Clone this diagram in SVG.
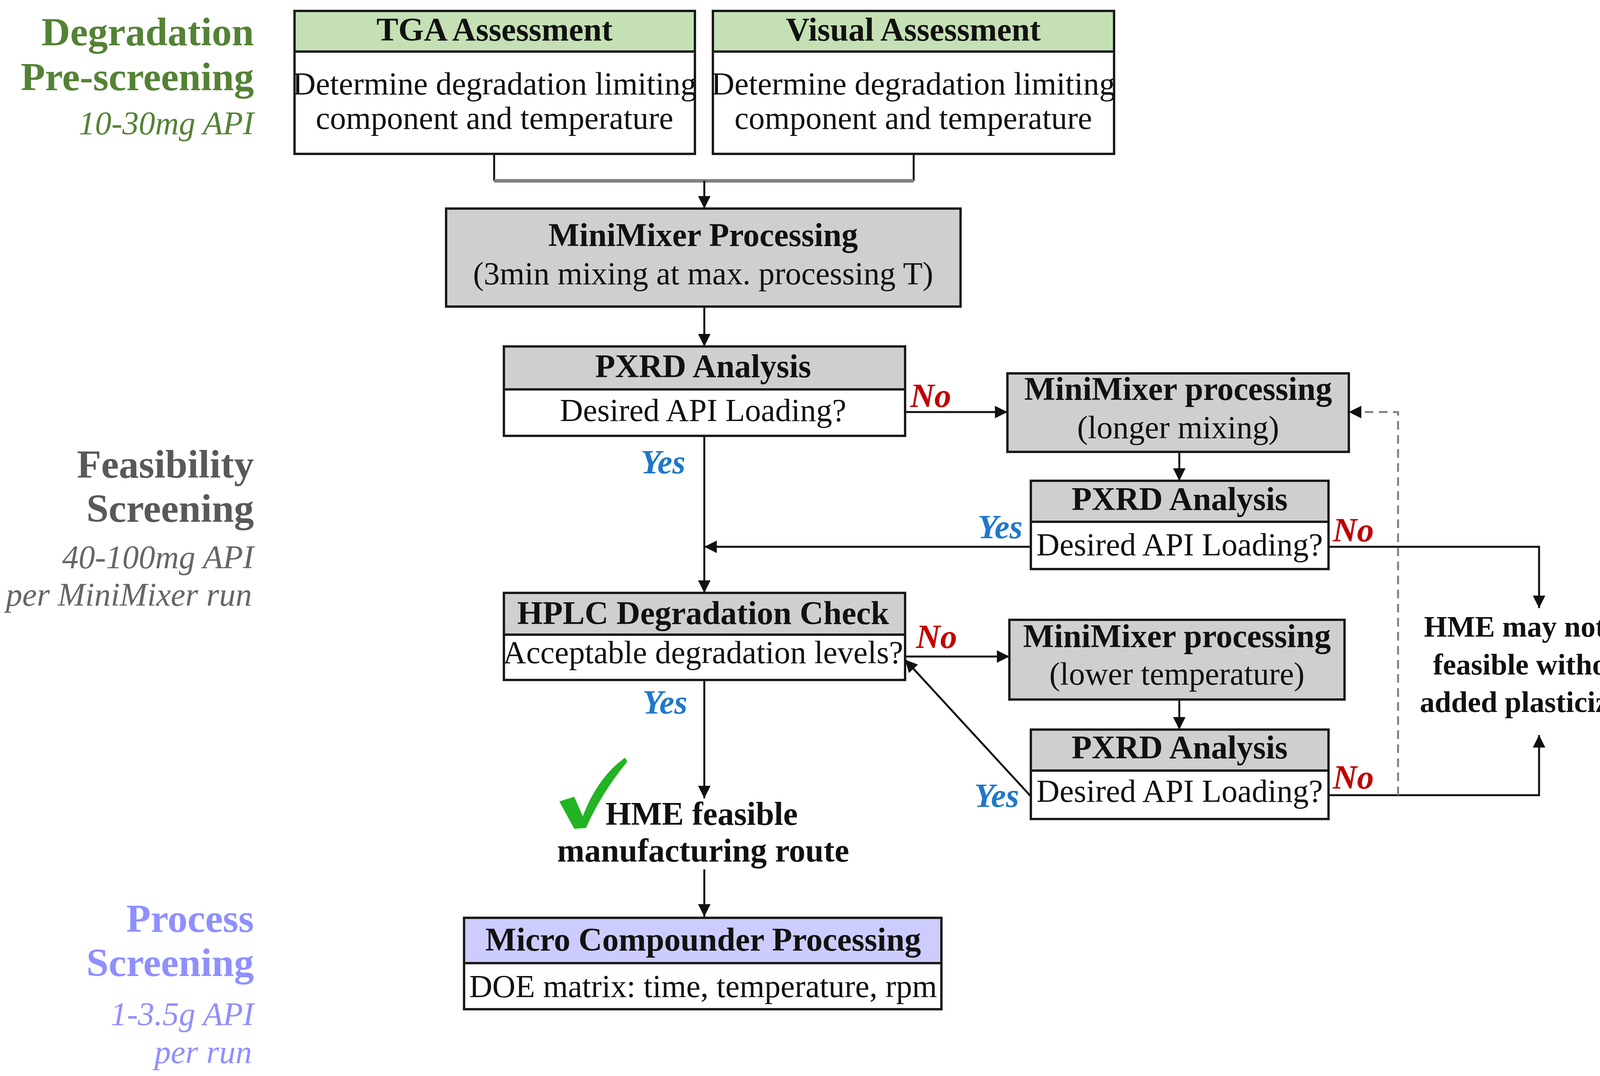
<svg xmlns="http://www.w3.org/2000/svg" width="4284" height="2755" viewBox="0 0 4284 2755">
<style>
text{font-family:"Liberation Serif","DejaVu Serif",serif;}
.box{stroke:#1a1a1a;stroke-width:6;}
.w{fill:#fff}.g{fill:#d0cece}.gr{fill:#c5e0b4}.lv{fill:#ccccff}
.t{font-size:84px;font-weight:bold;text-anchor:middle;fill:#111}
.b{font-size:82px;text-anchor:middle;fill:#111}
.h{font-size:76px;font-weight:bold;text-anchor:middle;fill:#111}
.c{stroke:#111;stroke-width:5;fill:none}
.no{font-size:86px;font-weight:bold;font-style:italic;fill:#c00000}
.yes{font-size:86px;font-weight:bold;font-style:italic;fill:#1f78c8}
.L{font-size:102px;font-weight:bold;text-anchor:end}
.S{font-size:84px;font-style:italic;text-anchor:end}
</style>
<defs>
<marker id="ad" viewBox="0 0 10 10" refX="10" refY="5" markerWidth="32" markerHeight="32" orient="auto" markerUnits="userSpaceOnUse">
<path d="M0,0 L10,5 L0,10 z" fill="#111"/>
</marker>
</defs>
<g id="labels">
<text class="L" x="650" y="116" fill="#548235">Degradation</text>
<text class="L" x="650" y="231" fill="#548235">Pre-screening</text>
<text class="S" x="650" y="344" fill="#548235">10-30mg API</text>
<text class="L" x="650" y="1223" fill="#595959">Feasibility</text>
<text class="L" x="650" y="1336" fill="#595959">Screening</text>
<text class="S" x="650" y="1455" fill="#666">40-100mg API</text>
<text class="S" x="645" y="1551" fill="#666">per MiniMixer run</text>
<text class="L" x="650" y="2386" fill="#8f8fff">Process</text>
<text class="L" x="650" y="2499" fill="#8f8fff">Screening</text>
<text class="S" x="650" y="2625" fill="#8f8fff">1-3.5g API</text>
<text class="S" x="645" y="2722" fill="#8f8fff">per run</text>
</g>
<g id="connectors">
<path class="c" d="M1265,394 V463 M2339,394 V463"/>
<path d="M1265,463 H2339" stroke="#808080" stroke-width="9"/>
<path class="c" d="M1803,463 V534" marker-end="url(#ad)"/>
<path class="c" d="M1803,785 V887" marker-end="url(#ad)"/>
<path class="c" d="M2317,1055 H2579" marker-end="url(#ad)"/>
<path class="c" d="M3019,1157 V1231" marker-end="url(#ad)"/>
<path class="c" d="M2639,1400 H1803" marker-end="url(#ad)"/>
<path class="c" d="M3401,1400 H3940 V1557" marker-end="url(#ad)"/>
<path class="c" d="M1803,1116 V1518" marker-end="url(#ad)"/>
<path class="c" d="M2317,1681 H2584" marker-end="url(#ad)"/>
<path class="c" d="M3019,1791 V1868" marker-end="url(#ad)"/>
<path class="c" d="M2639,2039 L2317,1689" stroke-width="4" marker-end="url(#ad)"/>
<path class="c" d="M3401,2036 H3940 V1882" marker-end="url(#ad)"/>
<path d="M3579,2036 V1055 H3453" fill="none" stroke="#808080" stroke-width="5" stroke-dasharray="22,14" marker-end="url(#ad)"/>
<path class="c" d="M1803,1741 V2044" marker-end="url(#ad)"/>
<path class="c" d="M1803,2226 V2347" marker-end="url(#ad)"/>
<text class="no" x="2330" y="1042">No</text>
<text class="yes" x="1640" y="1212">Yes</text>
<text class="yes" x="2503" y="1378">Yes</text>
<text class="no" x="3412" y="1386">No</text>
<text class="no" x="2345" y="1659">No</text>
<text class="yes" x="1645" y="1827">Yes</text>
<text class="yes" x="2494" y="2066">Yes</text>
<text class="no" x="3412" y="2019">No</text>
</g>
<g id="tga">
<rect class="box gr" x="754" y="28" width="1025" height="104"/>
<rect class="box w" x="754" y="132" width="1025" height="262"/>
<text class="t" x="1266" y="104">TGA Assessment</text>
<text class="b" x="1266" y="242">Determine degradation limiting</text>
<text class="b" x="1266" y="330">component and temperature</text>
</g>
<g id="visual">
<rect class="box gr" x="1825" y="28" width="1027" height="104"/>
<rect class="box w" x="1825" y="132" width="1027" height="262"/>
<text class="t" x="2338" y="104">Visual Assessment</text>
<text class="b" x="2338" y="242">Determine degradation limiting</text>
<text class="b" x="2338" y="330">component and temperature</text>
</g>
<g id="minimixer1">
<rect class="box g" x="1142" y="534" width="1317" height="251"/>
<text class="t" x="1800" y="630">MiniMixer Processing</text>
<text class="b" x="1800" y="728">(3min mixing at max. processing T)</text>
</g>
<g id="pxrd1">
<rect class="box g" x="1290" y="887" width="1027" height="110"/>
<rect class="box w" x="1290" y="997" width="1027" height="119"/>
<text class="t" x="1800" y="966">PXRD Analysis</text>
<text class="b" x="1800" y="1078">Desired API Loading?</text>
</g>
<g id="minimixer2">
<rect class="box g" x="2579" y="956" width="874" height="201"/>
<text class="t" x="3016" y="1024">MiniMixer processing</text>
<text class="b" x="3016" y="1122">(longer mixing)</text>
</g>
<g id="pxrd2">
<rect class="box g" x="2639" y="1231" width="762" height="105"/>
<rect class="box w" x="2639" y="1336" width="762" height="121"/>
<text class="t" x="3020" y="1306">PXRD Analysis</text>
<text class="b" x="3020" y="1422">Desired API Loading?</text>
</g>
<g id="hplc">
<rect class="box g" x="1290" y="1518" width="1027" height="107"/>
<rect class="box w" x="1290" y="1625" width="1027" height="116"/>
<text class="t" x="1800" y="1598">HPLC Degradation Check</text>
<text class="b" x="1800" y="1698">Acceptable degradation levels?</text>
</g>
<g id="minimixer3">
<rect class="box g" x="2584" y="1587" width="858" height="204"/>
<text class="t" x="3013" y="1657">MiniMixer processing</text>
<text class="b" x="3013" y="1753">(lower temperature)</text>
</g>
<g id="pxrd3">
<rect class="box g" x="2639" y="1868" width="762" height="105"/>
<rect class="box w" x="2639" y="1973" width="762" height="124"/>
<text class="t" x="3020" y="1942">PXRD Analysis</text>
<text class="b" x="3020" y="2053">Desired API Loading?</text>
</g>
<g id="notfeasible">
<text class="h" x="3925" y="1630">HME may not be</text>
<text class="h" x="3925" y="1727">feasible without</text>
<text class="h" x="3925" y="1823">added plasticizers</text>
</g>
<g id="feasible">
<path d="M1432,2052 L1470,2040 L1492,2090 Q1530,1990 1600,1940 L1606,1950 Q1540,2030 1500,2120 L1470,2122 Z" fill="#22b422"/>
<text class="t" x="1550" y="2112" style="text-anchor:start">HME feasible</text>
<text class="t" x="1800" y="2206">manufacturing route</text>
</g>
<g id="micro">
<rect class="box lv" x="1188" y="2350" width="1222" height="116"/>
<rect class="box w" x="1188" y="2466" width="1222" height="118"/>
<text class="t" x="1800" y="2434">Micro Compounder Processing</text>
<text class="b" x="1800" y="2553">DOE matrix: time, temperature, rpm</text>
</g>
</svg>
